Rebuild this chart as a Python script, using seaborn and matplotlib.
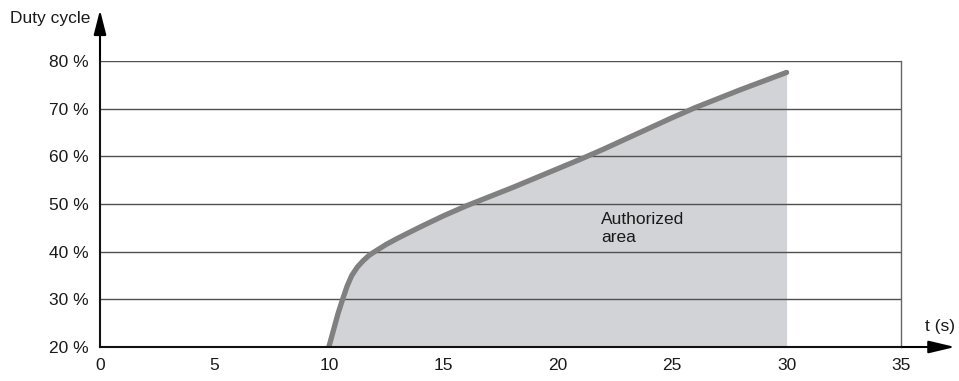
import numpy as np
import pandas as pd
import matplotlib
matplotlib.use('Agg')
import matplotlib.pyplot as plt
import seaborn as sns

# Datos
tiempo = [10, 10.2, 10.4, 10.6, 10.8, 11, 11.25, 11.5, 11.75, 12, 12.5, 13, 14, 15,
          16, 17, 18, 19, 20, 21, 22, 23, 24, 25, 26, 27, 28, 29, 30]
ciclo = [20, 23.5, 27, 30, 32.8, 35, 36.8, 38.1, 39.2, 40, 41.5, 42.8, 45.2, 47.5,
         49.6, 51.5, 53.4, 55.4, 57.4, 59.4, 61.5, 63.7, 65.9, 68.1, 70.2, 72.1, 74.0, 75.8, 77.6]
ticks_x = [0, 5, 10, 15, 20, 25, 30, 35]
ticks_y = [20, 30, 40, 50, 60, 70, 80]
etiquetas_y = [f'{v} %' for v in ticks_y]

df = pd.DataFrame({'t': tiempo, 'duty': ciclo})

sns.set_style('white')
plt.rcParams['font.family'] = ['Liberation Sans', 'DejaVu Sans']

fig = plt.figure(figsize=(9.59, 3.81), dpi=100)
ax = fig.add_axes([100 / 959, 1 - 347 / 381, 801 / 959, 286 / 381])

# zona autorizada
ax.fill_between(df['t'], 20, df['duty'], color='#d1d3d6', lw=0, zorder=1)
sns.lineplot(data=df, x='t', y='duty', ax=ax, color='#808080', lw=3.8,
             solid_capstyle='round', solid_joinstyle='round', zorder=3)

ax.set_xlim(0, 35)
ax.set_ylim(20, 80)
ax.set_xticks(ticks_x)
ax.set_yticks(ticks_y)
ax.set_yticklabels(etiquetas_y)
ax.set_xlabel('')
ax.set_ylabel('')
ax.tick_params(axis='both', labelsize=12.5, colors='#1a1a1a', direction='out')
ax.tick_params(axis='y', length=6, width=1, color='#333333', pad=2)
ax.tick_params(axis='x', length=5, width=1, color='#333333', pad=3)

# lineas horizontales
for v in ticks_y[1:]:
    ax.axhline(v, color='#505050', lw=1, zorder=2)

ax.spines['top'].set_visible(False)
ax.spines['right'].set_color('#666666')
ax.spines['right'].set_linewidth(1)
ax.spines['left'].set_color('#111111')
ax.spines['left'].set_linewidth(1.5)
ax.spines['bottom'].set_color('#111111')
ax.spines['bottom'].set_linewidth(1.5)
ax.spines['left'].set_zorder(4)
ax.spines['bottom'].set_zorder(4)

# flechas de los ejes
ax.annotate('', xy=(0, 1 + 51 / 286), xytext=(0, 1), xycoords='axes fraction',
            arrowprops=dict(arrowstyle='-|>,head_length=1.5,head_width=0.38',
                            color='#000000', lw=1.5, shrinkA=0, shrinkB=0),
            annotation_clip=False)
ax.annotate('', xy=(1 + 54 / 801, 0), xytext=(1, 0), xycoords='axes fraction',
            arrowprops=dict(arrowstyle='-|>,head_length=1.6,head_width=0.38',
                            color='#000000', lw=1.5, shrinkA=0, shrinkB=0),
            annotation_clip=False)

fig.text(10 / 959, 1 - 18 / 381, 'Duty cycle', fontsize=12.5, color='#1a1a1a',
         ha='left', va='center')
fig.text(955 / 959, 1 - 326 / 381, 't (s)', fontsize=12.5, color='#1a1a1a',
         ha='right', va='center')

ax.text(21.9, 48.4, 'Authorized\narea', fontsize=12.5, color='#1a1a1a',
        ha='left', va='top', linespacing=1.25, zorder=5)

fig.savefig('out.png', dpi=100, facecolor='white')
